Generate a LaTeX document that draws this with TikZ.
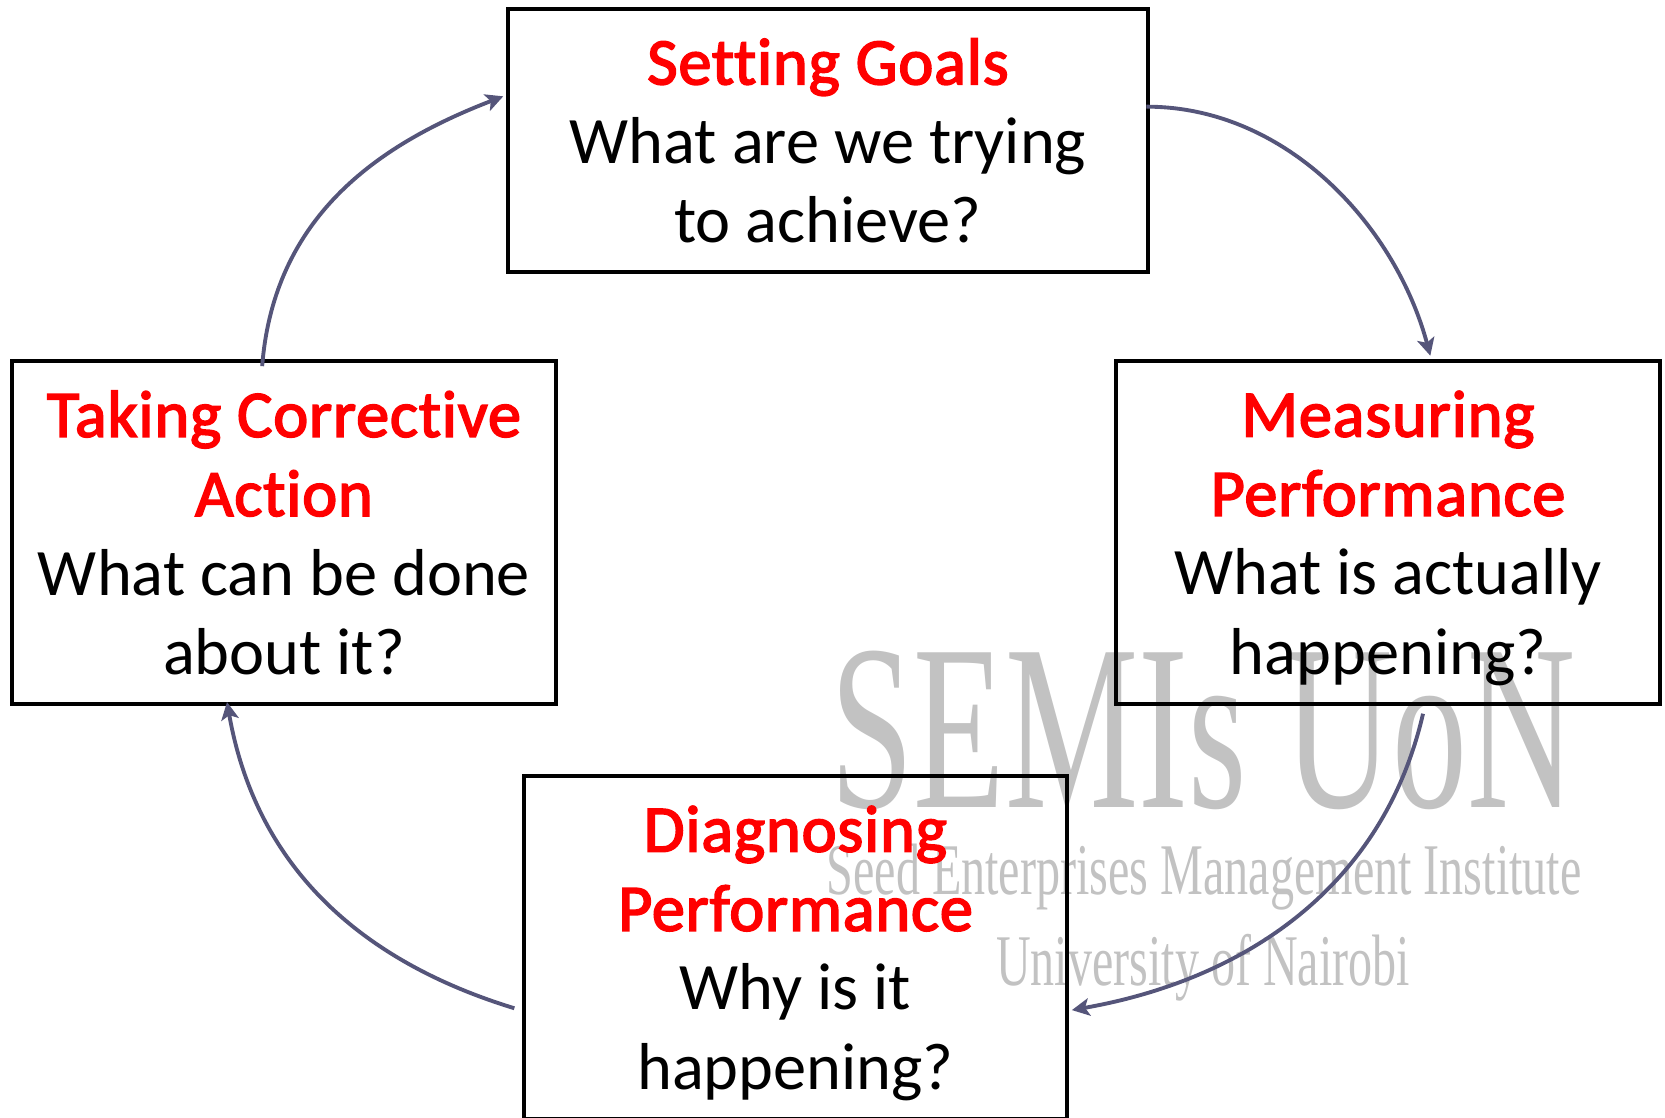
\documentclass[tikz,border=0pt]{standalone}
\usepackage{fontspec}
\setmainfont{Carlito}[Ligatures=NoCommon]
\newfontfamily\markfont{Liberation Serif}
\usetikzlibrary{arrows.meta}
\definecolor{arrowblue}{HTML}{55557A}
\definecolor{markgray}{HTML}{C2C2C2}
\tikzset{
  stagebox/.style={draw=black, line width=1pt, inner sep=0pt, align=center, text depth=0pt, font=\fontsize{18.87}{22.5}\selectfont},
  markline/.style={text=markgray, inner sep=0pt, anchor=base, transform shape, font=\markfont},
  cyclearrow/.style={->, line width=1.1pt, draw=arrowblue}
}
\newcommand{\stagetitle}[1]{\textcolor{red}{\addfontfeature{FakeBold=2.5,LetterSpace=1.2}#1}}
\begin{document}
\begin{tikzpicture}[x=0.01cm, y=0.01cm, >={Stealth[length=5pt, width=5pt, inset=1.2pt]}]
    \useasboundingbox (0,0) rectangle (1665,1117);

    % Draw the watermark first
    \node[markline, xscale=0.71, yscale=1.12] (markA) at (1203,309) {\fontsize{60}{60}\selectfont SEMIs UoN};
    \node[markline, xscale=0.661] (markB) at (1204,222) {\fontsize{20.7}{24}\selectfont Seed Enterprises Management Institute};
    \node[markline, xscale=0.66] (markC) at (1203,132) {\fontsize{20.7}{24}\selectfont University of Nairobi};

    % Draw the four boxes
    \node[stagebox, minimum width=6.40cm, minimum height=2.63cm] (goals) at (828,976.5)
        {\stagetitle{Setting Goals}\\What are we trying\\to achieve?};
    \node[stagebox, minimum width=5.44cm, minimum height=3.43cm] (measuring) at (1388,584.5)
        {\stagetitle{Measuring}\\\stagetitle{Performance}\\What is actually\\happening?};
    \node[stagebox, minimum width=5.43cm, minimum height=3.43cm] (diagnosing) at (795.5,169.5)
        {\stagetitle{Diagnosing}\\\stagetitle{Performance}\\Why is it\\happening?};
    \node[stagebox, minimum width=5.44cm, minimum height=3.43cm] (taking) at (284,584.5)
        {\stagetitle{Taking Corrective}\\\stagetitle{Action}\\What can be done\\about it?};

    % Draw the curved arrows
    \draw[cyclearrow, shorten <=-1pt, shorten >=1pt] (goals.6) to[out=0, in=105, looseness=0.93] (measuring.76);
    \draw[cyclearrow, shorten <=2.3pt, shorten >=0.85pt] (measuring.-78) to[out=-103, in=10] (diagnosing.-13);
    \draw[cyclearrow, shorten <=2.3pt, shorten >=-1.1pt] (diagnosing.193) to[out=163, in=-80] (taking.252);
    \draw[cyclearrow, shorten <=-2pt, shorten >=0.85pt] (taking.97) to[out=85.5, in=201] (goals.172);
\end{tikzpicture}
\end{document}
